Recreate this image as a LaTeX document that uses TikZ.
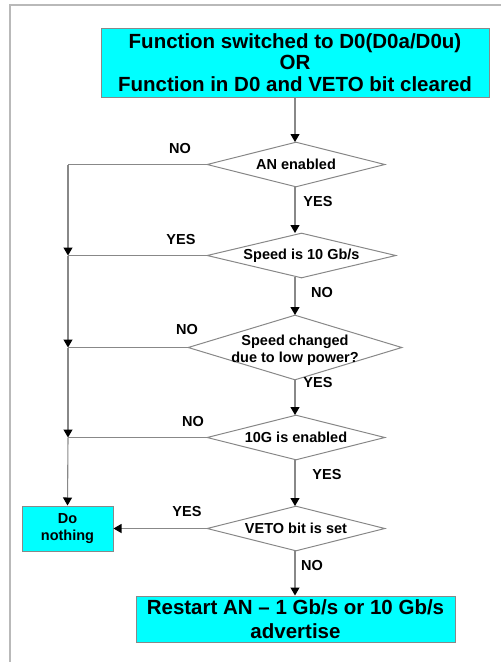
\documentclass[tikz,border=0pt]{standalone}
\usepackage{fontspec}
\setmainfont{Liberation Sans}
\usetikzlibrary{shapes.geometric,arrows.meta}
\definecolor{boxcyan}{RGB}{0,255,255}
\definecolor{linegray}{RGB}{136,136,136}
\definecolor{framegray}{RGB}{185,185,185}
\tikzset{
  bigbox/.style={draw=linegray, fill=boxcyan, line width=1pt, inner sep=0pt, align=center,
    font=\fontsize{20.5}{21.5}\selectfont\bfseries},
  smallbox/.style={draw=linegray, fill=boxcyan, line width=1pt, inner sep=0pt, align=center,
    font=\fontsize{14.5}{17}\selectfont\bfseries},
  dia/.style={draw=linegray, shape=diamond, line width=1pt, inner sep=0pt, fill=white},
  dtext/.style={font=\fontsize{14.5}{17}\selectfont\bfseries, align=center, inner sep=0pt},
  lbl/.style={font=\fontsize{14.5}{17}\selectfont\bfseries, inner sep=0pt},
  conn/.style={draw=linegray, line width=1.1pt},
  arr/.style={conn, -{Triangle[width=9pt,length=8pt,color=black]}},
}
\begin{document}
\begin{tikzpicture}[x=1pt,y=-1pt]
\useasboundingbox (0,0) rectangle (501,662);
% frame
\draw[framegray, line width=1.8pt] (10,662) -- (10,5) -- (501,5);

\node[bigbox, minimum width=388pt, minimum height=69pt] (top) at (295,62.5)
  {Function switched to D0(D0a/D0u)\\OR\\Function in D0 and VETO bit cleared};

\node[dia, minimum width=178pt, minimum height=45pt] (d1) at (296,164.5) {};
\node[dtext] (t1) at (d1.center) {AN enabled};
\node[dia, minimum width=189pt, minimum height=45pt] (d2) at (301.5,255.5) {};
\node[dtext] (t2) at (d2.center) {Speed is 10 Gb/s};
\node[dia, minimum width=214pt, minimum height=65pt] (d3) at (295,347.5) {};
\node[dtext] (t3) at (295,350) {Speed changed\\due to low power?};
\node[dia, minimum width=178pt, minimum height=45pt] (d4) at (296,437.5) {};
\node[dtext] (t4) at (d4.center) {10G is enabled};
\node[dia, minimum width=178pt, minimum height=45pt] (d5) at (296,528.5) {};
\node[dtext] (t5) at (d5.center) {VETO bit is set};

\node[smallbox, minimum width=91pt, minimum height=45pt] (dn) at (67.5,528.5) {Do\\nothing};
\node[bigbox, minimum width=319pt, minimum height=46pt, font=\fontsize{20.5}{23.5}\selectfont\bfseries] (bot) at (295.5,619)
  {Restart AN -- 1 Gb/s or 10 Gb/s\\advertise};

\coordinate (j1) at (68,164.5);
\coordinate (j2) at (68,255.5);
\coordinate (j3) at (68,347.5);
\coordinate (j4) at (68,437.5);

% main column
\draw[arr] (top.south -| 295,0) -- (295,142);
\draw[arr] (295,187) -- (295,233);
\draw[arr] (295,277) -- (295,315);
\draw[arr] (295,380) -- (295,415);
\draw[arr] (295,460) -- (295,506);
\draw[arr] (295,551) -- (bot.north -| 295,0);
\draw[arr] (d5.west) -- (dn.east);

% left column
\draw[conn] (d1.west) -- (j1);
\draw[arr] (j1) -- (j2);
\draw[conn] (d2.west) -- (j2);
\draw[arr] (j2) -- (j3);
\draw[conn] (d3.west) -- (j3);
\draw[arr] (j3) -- (j4);
\draw[conn] (d4.west) -- (j4);
\draw[arr] (j4) -- (dn.north);

% labels
\node[lbl] (l1) at (180,149) {NO};
\node[lbl] (l2) at (318,202) {YES};
\node[lbl] (l3) at (181,240) {YES};
\node[lbl] (l4) at (322,293) {NO};
\node[lbl] (l5) at (187,330) {NO};
\node[lbl] (l6) at (318,383) {YES};
\node[lbl] (l7) at (193,422) {NO};
\node[lbl] (l8) at (327,475) {YES};
\node[lbl] (l9) at (187,512) {YES};
\node[lbl] (l10) at (312,566) {NO};
\end{tikzpicture}
\end{document}
